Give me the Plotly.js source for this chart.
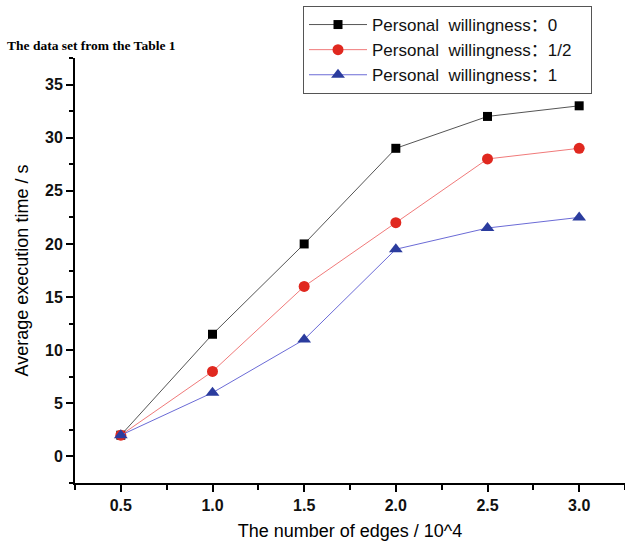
<!DOCTYPE html>
<html>
<head>
<meta charset="utf-8">
<script src="https://cdn.plot.ly/plotly-3.0.1.min.js"></script>
<style>html,body{margin:0;padding:0;background:#fff;}#chart{width:625px;height:541px;}</style>
</head>
<body>
<div id="chart"></div>
<script>
// Data
const edges = [0.5, 1.0, 1.5, 2.0, 2.5, 3.0];
const willing0 = [2, 11.5, 20, 29, 32, 33];
const willingHalf = [2, 8, 16, 22, 28, 29];
const willing1 = [2, 6, 11, 19.5, 21.5, 22.5];
const seriesNames = [
  "Personal\u00a0\u00a0willingness\uff1a0",
  "Personal\u00a0\u00a0willingness\uff1a1/2\u00a0\u00a0\u00a0",
  "Personal\u00a0\u00a0willingness\uff1a1"
];
const chartTitle = "The data set from the Table 1";
const xTitle = "The number of edges / 10^4";
const yTitle = "Average execution time / s";

const traces = [
  {x: edges, y: willing0, name: seriesNames[0], mode: "lines+markers",
   line: {color: "#555555", width: 1},
   marker: {symbol: "square", size: 9, color: "#000000"}},
  {x: edges, y: willingHalf, name: seriesNames[1], mode: "lines+markers",
   line: {color: "#f07a7a", width: 1},
   marker: {symbol: "circle", size: 11, color: "#e0281f"}},
  {x: edges, y: willing1, name: seriesNames[2], mode: "lines+markers",
   line: {color: "#6b6bd6", width: 1},
   marker: {symbol: "triangle-up", size: 12, color: "#2b3c9e"}}
];

const sans = "Liberation Sans, Arial, Noto Sans CJK SC, sans-serif";
const axisFont = {family: sans, size: 16, color: "#111", weight: "bold"};

const layout = {
  width: 625, height: 541,
  margin: {l: 75, r: 0, t: 58, b: 58, pad: 0},
  paper_bgcolor: "#fff", plot_bgcolor: "#fff",
  showlegend: true,
  title: {
    text: "<b>" + chartTitle + "</b>",
    xref: "container", yref: "container",
    x: 7/625, xanchor: "left", y: 1 - 45/541, yanchor: "middle",
    font: {family: "Liberation Serif, Times New Roman, serif", size: 13.5, color: "#000"}
  },
  xaxis: {
    range: [0.25, 3.25], tick0: 0.5, dtick: 0.5, tickformat: ".1f",
    showgrid: false, zeroline: false,
    showline: true, linecolor: "#000", linewidth: 2,
    ticks: "outside", ticklen: 7, tickwidth: 2, tickcolor: "#000",
    minor: {dtick: 0.25, tick0: 0.25, ticks: "outside", ticklen: 5, tickwidth: 2, tickcolor: "#000", showgrid: false},
    tickfont: axisFont,
    title: {text: xTitle, font: {family: sans, size: 18, color: "#000"}, standoff: 13}
  },
  yaxis: {
    range: [-2.5, 37.5], tick0: 0, dtick: 5,
    showgrid: false, zeroline: false,
    showline: true, linecolor: "#000", linewidth: 2,
    ticks: "outside", ticklen: 7, tickwidth: 2, tickcolor: "#000",
    minor: {dtick: 2.5, tick0: 0, ticks: "outside", ticklen: 4, tickwidth: 2, tickcolor: "#000", showgrid: false},
    tickfont: axisFont,
    title: {text: yTitle, font: {family: sans, size: 18, color: "#000"}, standoff: 12}
  },
  legend: {
    x: (303 - 75) / 550, xanchor: "left",
    y: (483 - 6) / 425, yanchor: "top",
    bgcolor: "#fff", bordercolor: "#555", borderwidth: 1,
    font: {family: sans, size: 17, color: "#111"},
    itemwidth: 58, tracegroupgap: 0
  }
};

Plotly.newPlot("chart", traces, layout, {displayModeBar: false, staticPlot: true});
</script>
</body>
</html>
